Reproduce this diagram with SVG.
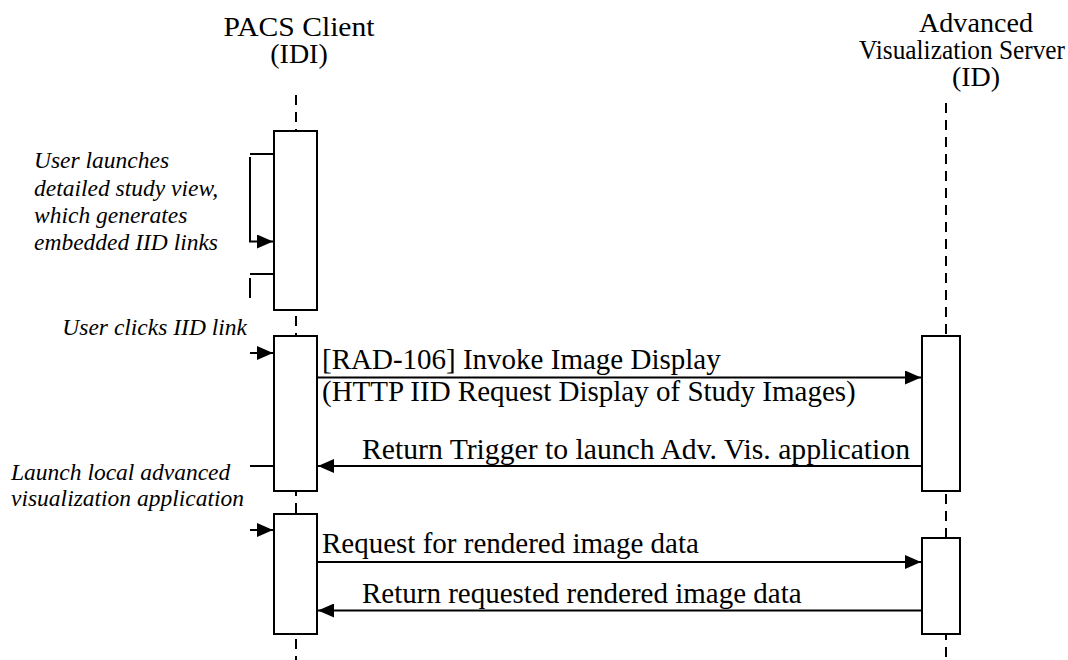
<svg xmlns="http://www.w3.org/2000/svg" width="1068" height="660" viewBox="0 0 1068 660">
<style>
.hdr{font-family:"Liberation Serif","Times New Roman",serif;font-size:28px;fill:#000;text-anchor:middle}
.msg{font-family:"Liberation Serif","Times New Roman",serif;font-size:29px;fill:#000}
.note{font-family:"Liberation Serif","Times New Roman",serif;font-size:23.5px;font-style:italic;fill:#000}
.life{stroke:#000;stroke-width:2;stroke-dasharray:10 7;fill:none}
.act{fill:#fff;stroke:#000;stroke-width:2}
.line{stroke:#000;stroke-width:2;fill:none}
</style>
<defs>
<marker id="ah" markerWidth="16" markerHeight="14" refX="16" refY="7" orient="auto" markerUnits="userSpaceOnUse">
<path d="M0,0 L16,7 L0,14 Z" fill="#000"/>
</marker>
</defs>
<rect width="1068" height="660" fill="#fff"/>
<g id="pacs-client">
<text class="hdr" x="299" y="36" textLength="151" lengthAdjust="spacingAndGlyphs">PACS Client</text>
<text class="hdr" x="299" y="63">(IDI)</text>
<line class="life" x1="296" y1="95" x2="296" y2="660"/>
<rect class="act" x="274" y="131" width="43" height="179"/>
<rect class="act" x="274" y="336" width="43" height="155"/>
<rect class="act" x="274" y="514" width="43" height="120"/>
</g>
<g id="av-server">
<text class="hdr" x="976" y="32" textLength="114" lengthAdjust="spacingAndGlyphs">Advanced</text>
<text class="hdr" x="962" y="59" textLength="206" lengthAdjust="spacingAndGlyphs">Visualization Server</text>
<text class="hdr" x="976" y="86">(ID)</text>
<line class="life" x1="946" y1="103" x2="946" y2="660"/>
<rect class="act" x="922" y="336" width="38" height="155"/>
<rect class="act" x="922" y="538" width="38" height="96"/>
</g>
<g id="notes">
<text class="note" x="34" y="168">User launches</text>
<text class="note" x="34" y="196">detailed study view,</text>
<text class="note" x="34" y="223">which generates</text>
<text class="note" x="34" y="250">embedded IID links</text>
<text class="note" x="247" y="335" text-anchor="end">User clicks IID link</text>
<text class="note" x="11" y="480">Launch local advanced</text>
<text class="note" x="11" y="506">visualization application</text>
</g>
<g id="connectors">
<path class="line" d="M273,154 L250,154"/>
<path class="line" d="M250,157 L250,241.5 L273,241.5" marker-end="url(#ah)"/>
<path class="line" d="M273,274 L250,274"/>
<path class="line" d="M250,278 L250,298"/>
<line class="line" x1="250" y1="353" x2="273" y2="353" marker-end="url(#ah)"/>
<line class="line" x1="250" y1="466" x2="273" y2="466"/>
<line class="line" x1="250" y1="530" x2="273" y2="530" marker-end="url(#ah)"/>
<line class="line" x1="318" y1="377.5" x2="921" y2="377.5" marker-end="url(#ah)"/>
<line class="line" x1="921" y1="466" x2="318" y2="466" marker-end="url(#ah)"/>
<line class="line" x1="318" y1="562" x2="921" y2="562" marker-end="url(#ah)"/>
<line class="line" x1="921" y1="610.5" x2="318" y2="610.5" marker-end="url(#ah)"/>
</g>
<g id="labels">
<text class="msg" x="322" y="369">[RAD-106] Invoke Image Display</text>
<text class="msg" x="322" y="401">(HTTP IID Request Display of Study Images)</text>
<text class="msg" x="362" y="459" textLength="548" lengthAdjust="spacingAndGlyphs">Return Trigger to launch Adv. Vis. application</text>
<text class="msg" x="322" y="553">Request for rendered image data</text>
<text class="msg" x="362" y="603">Return requested rendered image data</text>
</g>
</svg>
